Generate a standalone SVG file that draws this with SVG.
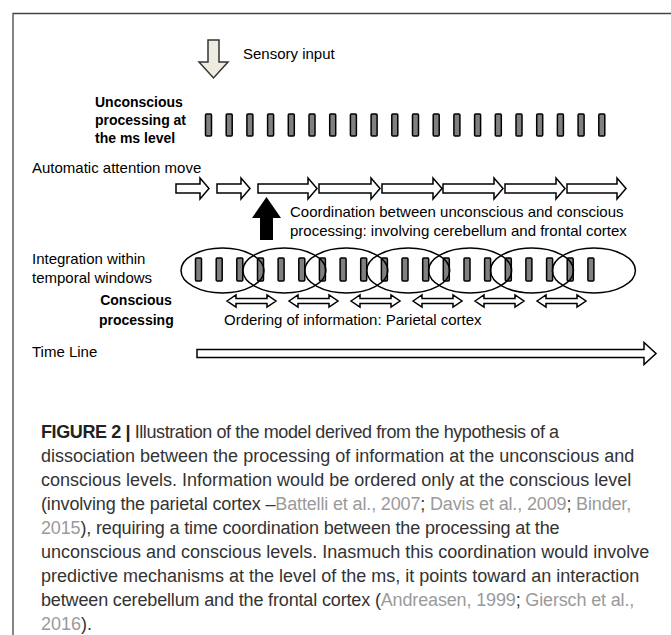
<svg xmlns="http://www.w3.org/2000/svg" width="671" height="635" viewBox="0 0 671 635">
<style>
.lbl{font-family:"Liberation Sans",Arial,sans-serif;font-size:15px;fill:#000}
.blbl{font-family:"Liberation Sans",Arial,sans-serif;font-size:14px;font-weight:bold;fill:#000}
.cap{font-family:"Liberation Sans",Arial,sans-serif;font-size:18px;fill:#333}
.ref{fill:#9a9a9a}
.bar{fill:#808080;stroke:#000;stroke-width:1.5}
.blk{fill:#fff;stroke:#000;stroke-width:1.5;stroke-linejoin:miter}
.win{fill:none;stroke:#000;stroke-width:1.5}
</style>
<rect width="671" height="635" fill="#fff"/>
<path d="M671,13.5 H13 V635" fill="none" stroke="#444" stroke-width="1.3"/>

<g id="sensory-input">
<path d="M208,40 H219 V62 H228 L213.5,78 L199,62 H208 Z" fill="#eeece1" stroke="#333" stroke-width="1.5"/>
<text class="lbl" x="243" y="59">Sensory input</text>
</g>

<g id="unconscious-processing">
<text class="blbl" x="95" y="107">Unconscious</text>
<text class="blbl" x="95" y="125">processing at</text>
<text class="blbl" x="95" y="143">the ms level</text>
<g id="ms-bars">
<rect class="bar" x="205.5" y="114" width="6" height="22" rx="1"/>
<rect class="bar" x="226.2" y="114" width="6" height="22" rx="1"/>
<rect class="bar" x="246.9" y="114" width="6" height="22" rx="1"/>
<rect class="bar" x="267.6" y="114" width="6" height="22" rx="1"/>
<rect class="bar" x="288.3" y="114" width="6" height="22" rx="1"/>
<rect class="bar" x="309.0" y="114" width="6" height="22" rx="1"/>
<rect class="bar" x="329.7" y="114" width="6" height="22" rx="1"/>
<rect class="bar" x="350.4" y="114" width="6" height="22" rx="1"/>
<rect class="bar" x="371.1" y="114" width="6" height="22" rx="1"/>
<rect class="bar" x="391.8" y="114" width="6" height="22" rx="1"/>
<rect class="bar" x="412.5" y="114" width="6" height="22" rx="1"/>
<rect class="bar" x="433.2" y="114" width="6" height="22" rx="1"/>
<rect class="bar" x="453.9" y="114" width="6" height="22" rx="1"/>
<rect class="bar" x="474.6" y="114" width="6" height="22" rx="1"/>
<rect class="bar" x="495.3" y="114" width="6" height="22" rx="1"/>
<rect class="bar" x="516.0" y="114" width="6" height="22" rx="1"/>
<rect class="bar" x="536.7" y="114" width="6" height="22" rx="1"/>
<rect class="bar" x="557.4" y="114" width="6" height="22" rx="1"/>
<rect class="bar" x="578.1" y="114" width="6" height="22" rx="1"/>
<rect class="bar" x="598.8" y="114" width="6" height="22" rx="1"/>
</g>
</g>

<g id="attention-move">
<text class="lbl" x="32" y="173">Automatic attention move</text>
<path class="blk" d="M176,184 H200 V178 L209,188.5 L200,199 V193 H176 Z"/>
<path class="blk" d="M217,184 H241 V178 L250,188.5 L241,199 V193 H217 Z"/>
<path class="blk" d="M258,184 H308 V178 L317,188.5 L308,199 V193 H258 Z"/>
<path class="blk" d="M319,184 H371 V178 L380,188.5 L371,199 V193 H319 Z"/>
<path class="blk" d="M382,184 H433 V178 L442,188.5 L433,199 V193 H382 Z"/>
<path class="blk" d="M443,184 H494 V178 L503,188.5 L494,199 V193 H443 Z"/>
<path class="blk" d="M505,184 H556 V178 L565,188.5 L556,199 V193 H505 Z"/>
<path class="blk" d="M567,184 H617 V178 L626,188.5 L617,199 V193 H567 Z"/>
</g>

<g id="coordination">
<path d="M260,240 V218 H252 L266.5,197 L281,218 H273 V240 Z" fill="#000"/>
<text class="lbl" x="290" y="217">Coordination between unconscious and conscious</text>
<text class="lbl" x="290" y="236">processing: involving cerebellum and frontal cortex</text>
</g>

<g id="temporal-windows">
<text class="lbl" x="32" y="264">Integration within</text>
<text class="lbl" x="32" y="283">temporal windows</text>
<g id="window-bars">
<rect class="bar" x="195.5" y="258" width="6" height="23" rx="1"/>
<rect class="bar" x="216.2" y="258" width="6" height="23" rx="1"/>
<rect class="bar" x="236.8" y="258" width="6" height="23" rx="1"/>
<rect class="bar" x="257.5" y="258" width="6" height="23" rx="1"/>
<rect class="bar" x="278.1" y="258" width="6" height="23" rx="1"/>
<rect class="bar" x="298.8" y="258" width="6" height="23" rx="1"/>
<rect class="bar" x="319.4" y="258" width="6" height="23" rx="1"/>
<rect class="bar" x="340.1" y="258" width="6" height="23" rx="1"/>
<rect class="bar" x="360.7" y="258" width="6" height="23" rx="1"/>
<rect class="bar" x="381.4" y="258" width="6" height="23" rx="1"/>
<rect class="bar" x="402.0" y="258" width="6" height="23" rx="1"/>
<rect class="bar" x="422.7" y="258" width="6" height="23" rx="1"/>
<rect class="bar" x="443.3" y="258" width="6" height="23" rx="1"/>
<rect class="bar" x="464.0" y="258" width="6" height="23" rx="1"/>
<rect class="bar" x="484.6" y="258" width="6" height="23" rx="1"/>
<rect class="bar" x="505.3" y="258" width="6" height="23" rx="1"/>
<rect class="bar" x="525.9" y="258" width="6" height="23" rx="1"/>
<rect class="bar" x="546.6" y="258" width="6" height="23" rx="1"/>
<rect class="bar" x="567.2" y="258" width="6" height="23" rx="1"/>
<rect class="bar" x="587.9" y="258" width="6" height="23" rx="1"/>
</g>
<ellipse class="win" cx="222.5" cy="270.5" rx="41.5" ry="22.5"/>
<ellipse class="win" cx="284.4" cy="270.5" rx="41.5" ry="22.5"/>
<ellipse class="win" cx="346.3" cy="270.5" rx="41.5" ry="22.5"/>
<ellipse class="win" cx="408.2" cy="270.5" rx="41.5" ry="22.5"/>
<ellipse class="win" cx="470.1" cy="270.5" rx="41.5" ry="22.5"/>
<ellipse class="win" cx="532.0" cy="270.5" rx="41.5" ry="22.5"/>
<ellipse class="win" cx="593.9" cy="270.5" rx="41.5" ry="22.5"/>
</g>

<g id="conscious-processing">
<text class="blbl" x="136" y="305" text-anchor="middle">Conscious</text>
<text class="blbl" x="99" y="325">processing</text>
<path class="blk" d="M227,301 L236,295 V298.5 H267 V295 L276,301 L267,307 V303.5 H236 V307 Z"/>
<path class="blk" d="M289,301 L298,295 V298.5 H329 V295 L338,301 L329,307 V303.5 H298 V307 Z"/>
<path class="blk" d="M351,301 L360,295 V298.5 H391 V295 L400,301 L391,307 V303.5 H360 V307 Z"/>
<path class="blk" d="M413,301 L422,295 V298.5 H453 V295 L462,301 L453,307 V303.5 H422 V307 Z"/>
<path class="blk" d="M475,301 L484,295 V298.5 H515 V295 L524,301 L515,307 V303.5 H484 V307 Z"/>
<path class="blk" d="M537,301 L546,295 V298.5 H577 V295 L586,301 L577,307 V303.5 H546 V307 Z"/>
<text class="lbl" x="224" y="325">Ordering of information: Parietal cortex</text>
</g>

<g id="time-line">
<text class="lbl" x="32" y="357">Time Line</text>
<path class="blk" d="M197,349.5 H644 V342.5 L656,353.5 L644,364.5 V357.5 H197 Z"/>
</g>

<g id="caption">
<text class="cap" x="41" y="438" letter-spacing="-0.4"><tspan font-weight="bold" fill="#222">FIGURE 2 |</tspan> Illustration of the model derived from the hypothesis of a</text>
<text class="cap" x="41" y="462">dissociation between the processing of information at the unconscious and</text>
<text class="cap" x="41" y="486">conscious levels. Information would be ordered only at the conscious level</text>
<text class="cap" x="41" y="510" letter-spacing="-0.15">(involving the parietal cortex –<tspan class="ref">Battelli et al., 2007</tspan>; <tspan class="ref">Davis et al., 2009</tspan>; <tspan class="ref">Binder,</tspan></text>
<text class="cap" x="41" y="534" letter-spacing="-0.15"><tspan class="ref">2015</tspan>), requiring a time coordination between the processing at the</text>
<text class="cap" x="41" y="558">unconscious and conscious levels. Inasmuch this coordination would involve</text>
<text class="cap" x="41" y="582">predictive mechanisms at the level of the ms, it points toward an interaction</text>
<text class="cap" x="41" y="606" letter-spacing="-0.15">between cerebellum and the frontal cortex (<tspan class="ref">Andreasen, 1999</tspan>; <tspan class="ref">Giersch et al.,</tspan></text>
<text class="cap" x="41" y="630"><tspan class="ref">2016</tspan>).</text>
</g>
</svg>
